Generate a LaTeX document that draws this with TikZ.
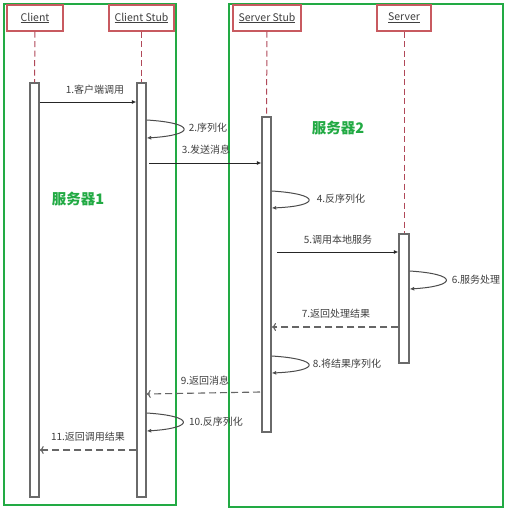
\documentclass[tikz,border=0pt]{standalone}
\usepackage{fontspec}
\setmainfont{Noto Sans CJK SC}
\usetikzlibrary{arrows.meta}
\definecolor{grn}{HTML}{22AA44}
\definecolor{hdr}{HTML}{C85A60}
\definecolor{life}{HTML}{B04858}
\definecolor{barc}{HTML}{6A6A6A}
\definecolor{txt}{HTML}{404040}
\tikzset{
  hbox/.style={draw=hdr, line width=1.3pt, fill=white, minimum height=26pt, inner sep=0pt, text=txt, font=\fontsize{10.5}{11}\selectfont},
  abar/.style={draw=barc, line width=1.4pt, fill=white, minimum width=9pt, inner sep=0pt},
  lifeln/.style={draw=life, dash pattern=on 6pt off 3.5pt, line width=1pt},
  msg/.style={draw=black!85, line width=0.8pt, -{Latex[length=4.5pt,width=4pt]}},
  ret/.style={draw=black!60, line width=1.1pt, dash pattern=on 7pt off 4pt, -{To[length=4pt,width=8pt]}},
  selfl/.style={draw=black!70, line width=1pt, -{Latex[length=4.5pt,width=4pt]}},
  lbl/.style={text=txt, font=\fontsize{10}{11}\selectfont, inner sep=1pt},
  grp/.style={draw=grn, line width=1.4pt},
  grpl/.style={text=grn, font=\bfseries\fontsize{14.5}{15}\selectfont},
}
\begin{document}
\begin{tikzpicture}[x=1pt,y=-1pt]
\useasboundingbox[fill=white] (0,0) rectangle (505,512);
% groups
\draw[grp] (4,4) rectangle (176,505);
\draw[grp] (229,4) rectangle (503,507);
\node[grpl] (g1) at (78,199) {服务器1};
\node[grpl] (g2) at (338,128) {服务器2};
% headers
\node[hbox, minimum width=56pt] (hc) at (35,18) {\underline{Client}};
\node[hbox, minimum width=65pt] (hcs) at (141.5,18) {\underline{Client Stub}};
\node[hbox, minimum width=68pt] (hss) at (267,18) {\underline{Server Stub}};
\node[hbox, minimum width=54pt] (hs) at (404,18) {\underline{Server}};
% activation bars
\node[abar, minimum height=414pt] (bc) at (34.5,290) {};
\node[abar, minimum height=414pt] (bcs) at (141.5,290) {};
\node[abar, minimum height=315pt] (bss) at (266.5,274.5) {};
\node[abar, minimum width=10pt, minimum height=129pt] (bs) at (404,298.5) {};
% lifelines
\draw[lifeln] (hc.south) -- (bc.north);
\draw[lifeln] (hcs.south) -- (bcs.north);
\draw[lifeln] (hss.south) -- (bss.north);
\draw[lifeln] (hs.south) -- (bs.north);
% 1
\draw[msg] (bc.east |- 0,102) -- (bcs.west |- 0,102);
\node[lbl] (l1) at (95,90) {1.客户端调用};
% 2
\draw[selfl] (bcs.east |- 0,120) .. controls (196,123) and (196,135) .. (bcs.east |- 0,138);
\node[lbl] (l2) at (208,128) {2.序列化};
% 3
\draw[msg] (149,163) -- (bss.west |- 0,163);
\node[lbl] (l3) at (206,150) {3.发送消息};
% 4
\draw[selfl] (bss.east |- 0,191) .. controls (321,194) and (321,206) .. (bss.east |- 0,208);
\node[lbl] (l4) at (341,199) {4.反序列化};
% 5
\draw[msg] (277,252) -- (bs.west |- 0,252);
\node[lbl] (l5) at (338,240) {5.调用本地服务};
% 6
\draw[selfl] (bs.east |- 0,271) .. controls (458,274) and (458,286) .. (bs.east |- 0,289);
\node[lbl] (l6) at (476,280) {6.服务处理};
% 7
\draw[ret] (bs.west |- 0,327) -- (272,327);
\node[lbl] (l7) at (336,314) {7.返回处理结果};
% 8
\draw[selfl] (bss.east |- 0,356) .. controls (321,359) and (321,371) .. (bss.east |- 0,373);
\node[lbl] (l8) at (347,364) {8.将结果序列化};
% 9
\draw[ret] (260,392) -- (bcs.east |- 0,394);
\node[lbl] (l9) at (205,381) {9.返回消息};
% 10
\draw[selfl] (bcs.east |- 0,413) .. controls (195,416) and (195,428) .. (bcs.east |- 0,431);
\node[lbl] (l10) at (216,422) {10.反序列化};
% 11
\draw[ret] (bcs.west |- 0,450) -- (bc.east |- 0,450);
\node[lbl] (l11) at (88,437) {11.返回调用结果};
\end{tikzpicture}
\end{document}
